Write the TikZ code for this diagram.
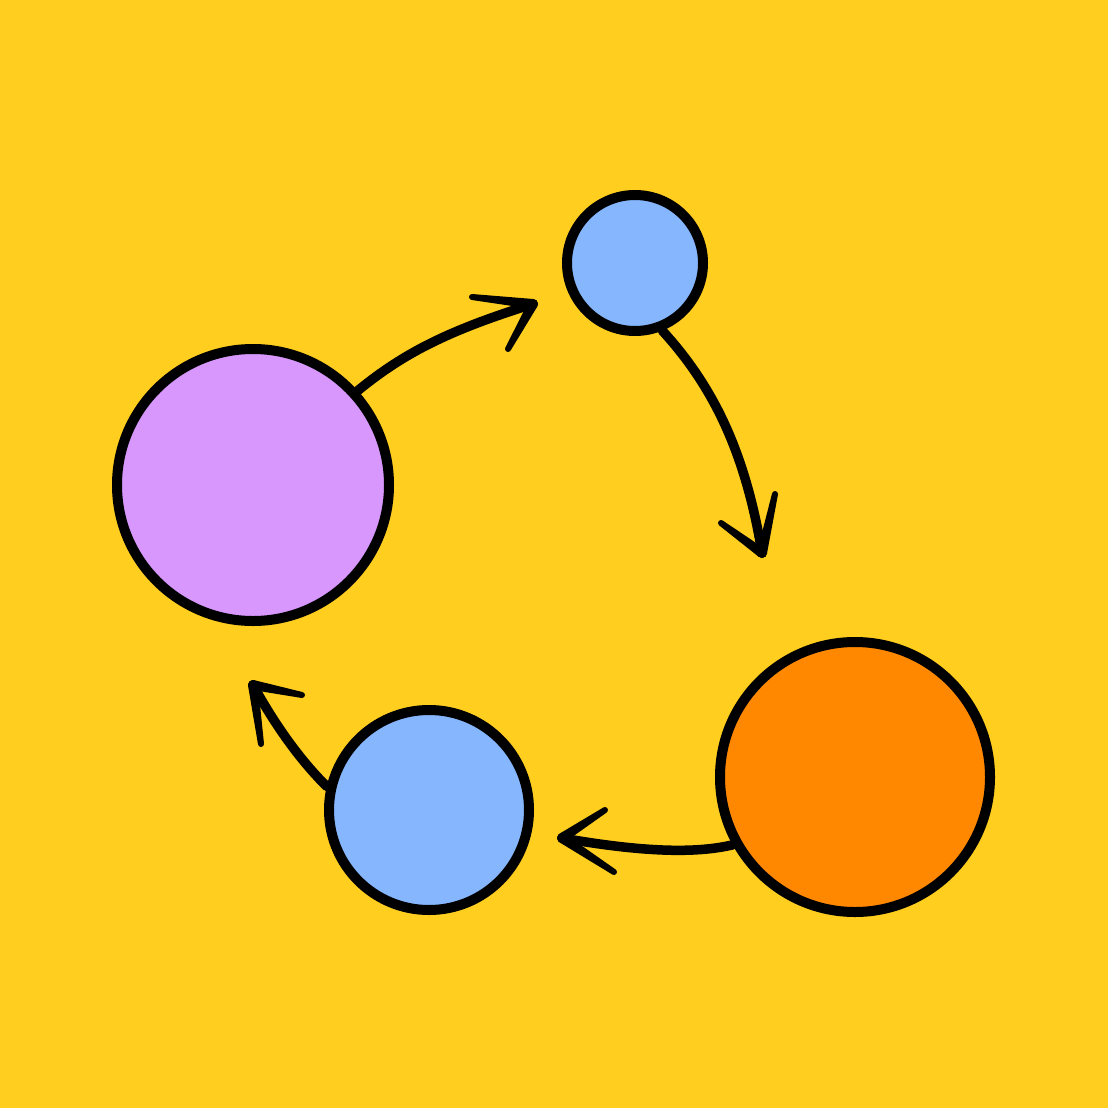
\documentclass[tikz,border=0pt]{standalone}
\usetikzlibrary{calc}
\definecolor{bgyellow}{HTML}{FFCE1F}
\definecolor{cpurple}{HTML}{D797FD}
\definecolor{cblue}{HTML}{86B7FE}
\definecolor{corange}{HTML}{FF8800}
\newcommand{\mybarb}[2]{%
  \fill[black] ($(#1)!5pt!90:(#2)$) -- ($(#2)!3pt!-90:(#1)$) -- ($(#2)!3pt!90:(#1)$) -- ($(#1)!5pt!-90:(#2)$) -- cycle;
  \fill[black] (#2) circle (3pt);
  \fill[black] (#1) circle (5pt);}
\begin{document}
\begin{tikzpicture}[x=1pt,y=-1pt,
  ball/.style={circle,draw=black,line width=10pt,inner sep=0pt,minimum size=#1},
  conn/.style={draw=black,line width=9.5pt,line cap=round}]
\fill[bgyellow] (0,0) rectangle (1108,1108);
\useasboundingbox (0,0) rectangle (1108,1108);
\node[ball=272pt,fill=cpurple] (p) at (253,485) {};
\node[ball=136pt,fill=cblue] (b1) at (635,263) {};
\node[ball=270pt,fill=corange] (o) at (855,777) {};
\node[ball=200pt,fill=cblue] (b2) at (429,810) {};
% tips and barb ends
\coordinate (t1) at (533,304);
\coordinate (t1a) at (472,297);
\coordinate (t1b) at (508,349);
\coordinate (t2) at (762,553);
\coordinate (t2a) at (721,523);
\coordinate (t2b) at (775,494);
\coordinate (t3) at (562,838);
\coordinate (t3a) at (605,810);
\coordinate (t3b) at (614,872);
\coordinate (t4) at (253,685);
\coordinate (t4a) at (302,695);
\coordinate (t4b) at (261,744);
% connectors
\draw[conn] (p.42) .. controls (405,352) and (450,330) .. (t1);
\mybarb{t1}{t1a}
\mybarb{t1}{t1b}
\draw[conn] (b1.-68) .. controls (712,385) and (745,450) .. (t2);
\mybarb{t2}{t2a}
\mybarb{t2}{t2b}
\draw[conn] (o.209) .. controls (690,855) and (630,850) .. (t3);
\mybarb{t3}{t3a}
\mybarb{t3}{t3b}
\draw[conn] (b2.167) .. controls (300,760) and (275,725) .. (t4);
\mybarb{t4}{t4a}
\mybarb{t4}{t4b}
\end{tikzpicture}
\end{document}
